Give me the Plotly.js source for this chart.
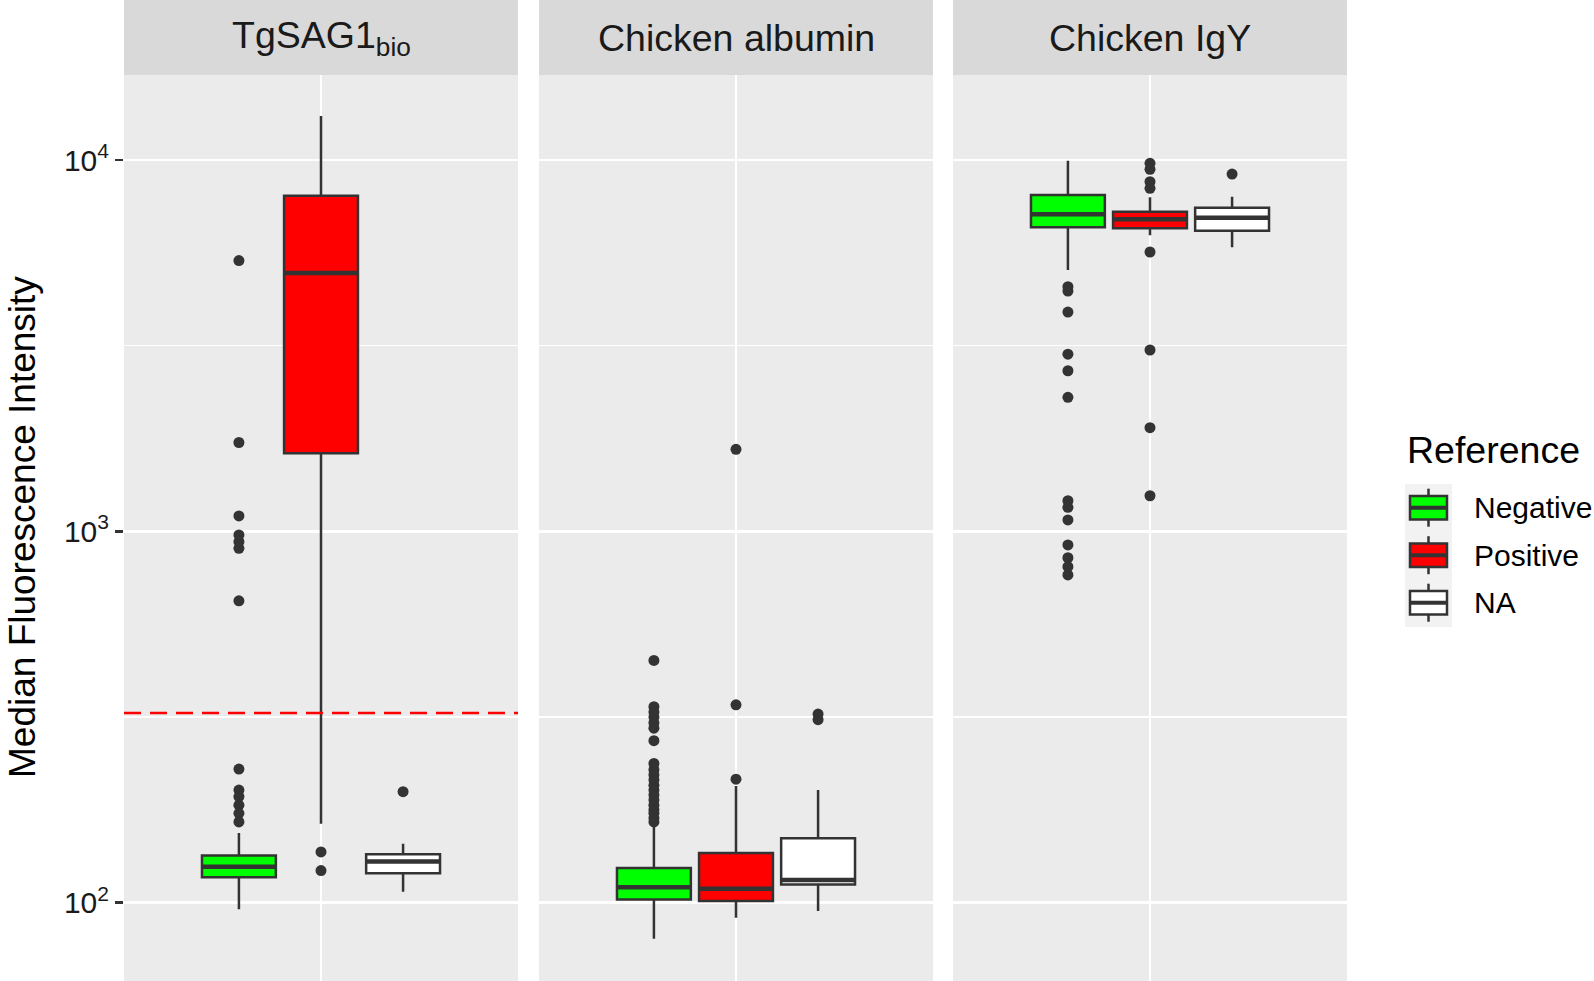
<!DOCTYPE html>
<html>
<head>
<meta charset="utf-8">
<script src="https://cdn.plot.ly/plotly-3.0.1.min.js"></script>
<style>
  body { margin: 0; background: #fff; }
  #chart { width: 1594px; height: 981px; }
</style>
</head>
<body>
<div id="chart"></div>
<script>
// facets and fill groups
var facets = ['TgSAG1<sub>bio</sub>', 'Chicken albumin', 'Chicken IgY'];
var groups = ['Negative', 'Positive', 'NA'];
var groupColors = ['#00FF00', '#FF0000', '#FFFFFF'];

// box statistics: one row per facet, columns follow groups
var lowerFence = [[96, 163, 107], [80, 91, 95], [5056, 6270, 5820]];
var q1 = [[117, 1623, 120], [102, 101, 112], [6587, 6546, 6449]];
var median = [[125, 4963, 129], [110, 109, 115], [7141, 6922, 6992]];
var q3 = [[134, 8014, 135], [124, 136, 149], [8050, 7256, 7438]];
var upperFence = [[154, 13140, 144], [161, 206, 201], [9957, 7933, 7963]];

// outlying points, one list per facet
var outliersNegative = [
  [5360, 1735, 1100, 978, 938, 900, 650, 229, 201, 193, 183, 174, 165],
  [449, 337, 326, 316, 305, 295, 273, 237, 228, 221, 214, 207, 201, 195, 189, 183, 178, 174, 169, 165],
  [4558, 4438, 3896, 2999, 2707, 2296, 1209, 1161, 1073, 919, 849, 803, 763]
];
var outliersPositive = [[137, 122], [1663, 341, 215], [9797, 9440, 8740, 8391, 5653, 3079, 1902, 1247]];
var outliersNA = [[199], [322, 311], [9169]];

var cutoff = 324; // dashed line, TgSAG1 panel only
var yTickVals = [100, 1000, 10000];
var yTickText = ['10<sup>2</sup>', '10<sup>3</sup>', '10<sup>4</sup>'];
var yMinorVals = [316.2, 3162];

// page geometry (px)
var W = 1594, H = 981;
var panelLeft = [124, 539, 953];
var panelWidth = 394;
var stripH = 75;
var dodge = 0.25, boxWidth = 0.225;
var dark = '#333333';
var fontFam = 'Liberation Sans, Arial, sans-serif';

function px(x) { return x / W; }
function py(y) { return (H - y) / H; }

var outliers = [outliersNegative, outliersPositive, outliersNA];
var traces = [];

// cutoff line under the boxes
traces.push({
  type: 'scatter', mode: 'lines',
  x: [0.4, 1.6], y: [cutoff, cutoff],
  line: { color: '#FF0000', width: 2.5, dash: '17px,9px' },
  xaxis: 'x', yaxis: 'y', showlegend: false, hoverinfo: 'skip'
});

facets.forEach(function (f, i) {
  var sfx = i === 0 ? '' : String(i + 1);
  groups.forEach(function (g, j) {
    var pos = 1 + (j - 1) * dodge;
    traces.push({
      type: 'box', name: g, orientation: 'v',
      x: [pos],
      lowerfence: [lowerFence[i][j]], q1: [q1[i][j]], median: [median[i][j]],
      q3: [q3[i][j]], upperfence: [upperFence[i][j]],
      width: boxWidth, fillcolor: groupColors[j],
      line: { color: dark, width: 2.5 }, whiskerwidth: 0, boxpoints: false,
      xaxis: 'x' + sfx, yaxis: 'y' + sfx, showlegend: false, hoverinfo: 'skip'
    });
    // thicker median bar like ggplot
    traces.push({
      type: 'scatter', mode: 'lines',
      x: [pos - boxWidth / 2, pos + boxWidth / 2], y: [median[i][j], median[i][j]],
      line: { color: dark, width: 4.5 },
      xaxis: 'x' + sfx, yaxis: 'y' + sfx, showlegend: false, hoverinfo: 'skip'
    });
    var pts = outliers[j][i];
    traces.push({
      type: 'scatter', mode: 'markers',
      x: pts.map(function () { return pos; }), y: pts,
      marker: { color: dark, size: 11 },
      xaxis: 'x' + sfx, yaxis: 'y' + sfx, showlegend: false, hoverinfo: 'skip'
    });
  });
});

var shapes = [], annotations = [];

var layout = {
  width: W, height: H,
  margin: { l: 0, r: 0, t: 0, b: 0 },
  paper_bgcolor: '#FFFFFF', plot_bgcolor: '#EBEBEB',
  showlegend: false, hovermode: false,
  font: { family: fontFam, color: '#1A1A1A' }
};

facets.forEach(function (f, i) {
  var sfx = i === 0 ? '' : String(i + 1);
  layout['xaxis' + sfx] = {
    domain: [px(panelLeft[i]), px(panelLeft[i] + panelWidth)],
    range: [0.4, 1.6], anchor: 'y' + sfx,
    tickvals: [1], showticklabels: false, ticks: '',
    showgrid: true, gridcolor: '#FFFFFF', gridwidth: 2.5,
    zeroline: false, showline: false
  };
  var ya = {
    domain: [0, py(stripH)], type: 'log', range: [1.789, 4.229], anchor: 'x' + sfx,
    tickmode: 'array', tickvals: yTickVals, ticktext: yTickText,
    showticklabels: i === 0, ticks: i === 0 ? 'outside' : '',
    ticklen: 8, tickwidth: 2.5, tickcolor: dark,
    tickfont: { size: 30, color: '#1A1A1A' },
    showgrid: true, gridcolor: '#FFFFFF', gridwidth: 2.7,
    minor: { tickmode: 'array', tickvals: yMinorVals, showgrid: true, gridcolor: '#FFFFFF', gridwidth: 1.3, ticks: '' },
    zeroline: false, showline: false
  };
  if (i > 0) ya.matches = 'y';
  layout['yaxis' + sfx] = ya;

  // facet strip
  shapes.push({
    type: 'rect', xref: 'paper', yref: 'paper',
    x0: px(panelLeft[i]), x1: px(panelLeft[i] + panelWidth), y0: py(stripH), y1: 1,
    fillcolor: '#D9D9D9', line: { width: 0 }, layer: 'below'
  });
  annotations.push({
    text: f, xref: 'paper', yref: 'paper',
    x: px(panelLeft[i] + panelWidth / 2), y: py(38),
    xanchor: 'center', yanchor: 'middle', showarrow: false,
    font: { size: 37.5, color: '#1A1A1A', family: fontFam }
  });
});

// y-axis title
annotations.push({
  text: 'Median Fluorescence Intensity', xref: 'paper', yref: 'paper',
  x: px(22), y: py(527), textangle: -90,
  xanchor: 'center', yanchor: 'middle', showarrow: false,
  font: { size: 37, color: '#000000', family: fontFam }
});

// legend drawn by hand to get ggplot-like keys
annotations.push({
  text: 'Reference', xref: 'paper', yref: 'paper',
  x: px(1405), y: py(450), xanchor: 'left', yanchor: 'middle', showarrow: false,
  font: { size: 37.5, color: '#000000', family: fontFam }
});
shapes.push({
  type: 'rect', xref: 'paper', yref: 'paper',
  x0: px(1405), x1: px(1452), y0: py(484), y1: py(627),
  fillcolor: '#F2F2F2', line: { width: 0 }
});
groups.forEach(function (g, j) {
  var cy = 507.7 + 47.5 * j;
  shapes.push({
    type: 'line', xref: 'paper', yref: 'paper',
    x0: px(1428.5), x1: px(1428.5), y0: py(cy - 19), y1: py(cy + 19),
    line: { color: dark, width: 2.5 }
  });
  shapes.push({
    type: 'rect', xref: 'paper', yref: 'paper',
    x0: px(1410), x1: px(1447), y0: py(cy - 11.7), y1: py(cy + 11.7),
    fillcolor: groupColors[j], line: { color: dark, width: 2.5 }
  });
  shapes.push({
    type: 'line', xref: 'paper', yref: 'paper',
    x0: px(1410), x1: px(1447), y0: py(cy), y1: py(cy),
    line: { color: dark, width: 4 }
  });
  annotations.push({
    text: g, xref: 'paper', yref: 'paper',
    x: px(1472), y: py(cy), xanchor: 'left', yanchor: 'middle', showarrow: false,
    font: { size: 30, color: '#000000', family: fontFam }
  });
});

layout.shapes = shapes;
layout.annotations = annotations;

Plotly.newPlot('chart', traces, layout, { displayModeBar: false, staticPlot: true });
</script>
</body>
</html>
